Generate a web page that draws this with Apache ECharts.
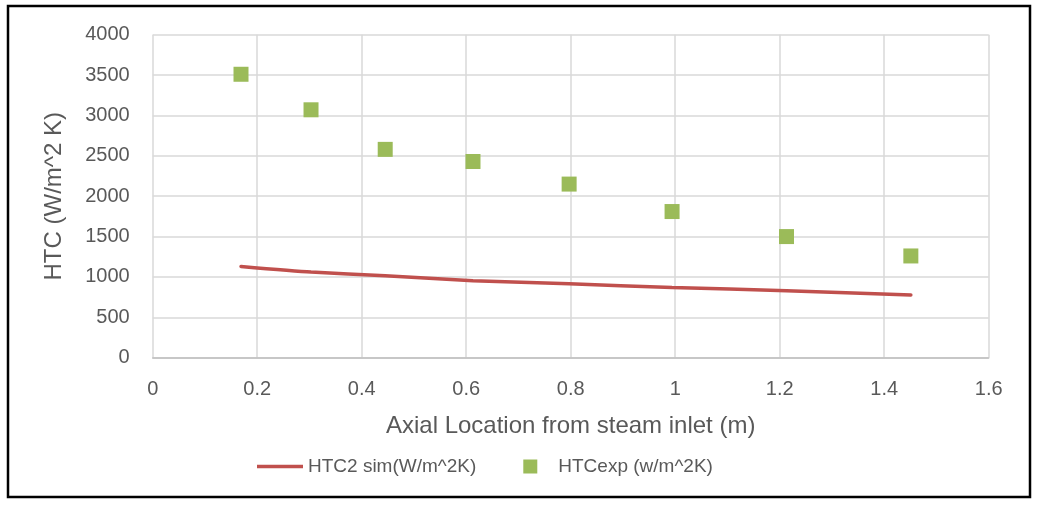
<!DOCTYPE html>
<html>
<head>
<meta charset="utf-8">
<script src="https://cdn.jsdelivr.net/npm/echarts@6/dist/echarts.min.js"></script>
<style>
  html, body { margin: 0; padding: 0; background: #fff; }
  #chart { width: 1037px; height: 508px; }
</style>
</head>
<body>
<div id="chart"></div>
<script>
// Axial positions (m)
const axialPos = [0.169, 0.303, 0.445, 0.613, 0.797, 0.994, 1.213, 1.451];
// Simulated heat transfer coefficient (W/m^2K)
const htcSim = [1130, 1060, 1015, 953, 915, 870, 829, 776];
// Measured heat transfer coefficient (w/m^2K)
const htcExp = [3510, 3070, 2580, 2430, 2150, 1810, 1500, 1260];

const xTicks = { min: 0, max: 1.6, interval: 0.2 };
const yTicks = { min: 0, max: 4000, interval: 500 };

const FONT = '"Liberation Sans", Arial, sans-serif';
const TXT = '#595959';

const simPairs = axialPos.map((x, i) => [x, htcSim[i]]);
const expPairs = axialPos.map((x, i) => [x, htcExp[i]]);

const chart = echarts.init(document.getElementById('chart'), null, { renderer: 'canvas' });
chart.setOption({
  animation: false,
  backgroundColor: '#ffffff',
  textStyle: { fontFamily: FONT, color: TXT },
  graphic: [{
    type: 'rect',
    shape: { x: 8, y: 6, width: 1022, height: 491 },
    style: { fill: 'none', stroke: '#000000', lineWidth: 2.5 },
    z: 100
  }],
  grid: { left: 152.7, right: 48.3, top: 34.7, bottom: 150.3 },
  legend: {
    left: 252,
    top: 452,
    itemWidth: 46,
    itemHeight: 14,
    itemGap: 31,
    textStyle: { fontFamily: FONT, fontSize: 19, color: TXT },
    data: [
      { name: 'HTC2 sim(W/m^2K)', icon: 'path://M0,0 L46,0 L46,3.5 L0,3.5 Z' },
      // square marker centred in a 46x14 box
      { name: 'HTCexp (w/m^2K)', icon: 'path://M0,0 M46,14 M16,0 L30,0 L30,14 L16,14 Z' }
    ]
  },
  xAxis: {
    type: 'value',
    min: xTicks.min, max: xTicks.max, interval: xTicks.interval,
    name: 'Axial Location from steam inlet (m)',
    nameLocation: 'middle',
    nameGap: 57,
    nameTextStyle: { fontFamily: FONT, fontSize: 24, color: TXT },
    axisLine: { show: true, lineStyle: { color: '#bfbfbf', width: 1.5 } },
    axisTick: { show: false },
    axisLabel: { margin: 22, fontFamily: FONT, fontSize: 20, color: TXT },
    splitLine: { show: true, lineStyle: { color: '#d9d9d9', width: 1.5 } }
  },
  yAxis: {
    type: 'value',
    min: yTicks.min, max: yTicks.max, interval: yTicks.interval,
    name: 'HTC (W/m^2 K)',
    nameLocation: 'middle',
    nameGap: 86,
    nameRotate: 90,
    nameTextStyle: { fontFamily: FONT, fontSize: 24, color: TXT },
    axisLine: { show: false },
    axisTick: { show: false },
    axisLabel: { margin: 23, fontFamily: FONT, fontSize: 20, color: TXT, formatter: v => String(v) },
    splitLine: { show: true, lineStyle: { color: '#d9d9d9', width: 1.5 } }
  },
  series: [
    {
      name: 'HTC2 sim(W/m^2K)',
      type: 'line',
      data: simPairs,
      smooth: 0.2,
      symbol: 'none',
      itemStyle: { color: '#c0504d' },
      lineStyle: { color: '#c0504d', width: 3.5, cap: 'round' },
      z: 3
    },
    {
      name: 'HTCexp (w/m^2K)',
      type: 'scatter',
      data: expPairs,
      symbol: 'rect',
      symbolSize: 15,
      itemStyle: { color: '#9bbb59', opacity: 1 },
      z: 4
    }
  ]
});
</script>
</body>
</html>
